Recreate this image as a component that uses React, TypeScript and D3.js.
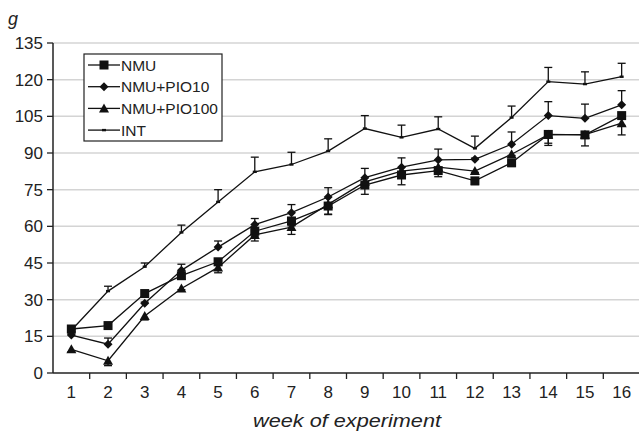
import React from "react";
import * as d3 from "d3";

const weeks = ["1","2","3","4","5","6","7","8","9","10","11","12","13","14","15","16"];
const yTicks = [0, 15, 30, 45, 60, 75, 90, 105, 120, 135];

const nmu = [18, 19.4, 32.5, 39.8, 45.5, 58, 62.2, 68.3, 76.9, 81, 82.8, 78.6, 86, 97.6, 97.4, 105.3];
const nmuErr = [1, 1, 1.5, 1.5, 1.5, 2, 2, 3.5, 3.8, 4, 2.5, 1.5, 1.5, 4.5, 4.5, 4];
const pio10 = [15.5, 11.8, 28.5, 42, 51.5, 60.7, 65.6, 72, 79.9, 84.2, 87.2, 87.4, 93.6, 105.3, 104.2, 109.7];
const pio10Err = [0.5, 2.5, 0.5, 2.5, 2.5, 2.5, 3.3, 3.8, 3.8, 3.8, 4.4, 0.5, 5, 5.7, 5.8, 5.8];
const pio100 = [9.7, 5, 23.3, 34.6, 43.2, 56.5, 59.7, 69, 78.2, 82.6, 84.2, 82.6, 89.5, 97.5, 97.5, 102.2];
const pio100Err = [1, 2, 1.6, 0.5, 2.2, 2.5, 3, 4, 0.5, 0.5, 0.5, 0.5, 0.5, 3.5, 0.5, 4.8];
const intg = [17.5, 33.5, 43.5, 57.5, 70, 82.3, 85.3, 90.8, 100, 96.4, 99.8, 91.9, 104.5, 119.2, 118.2, 121.2];
const intErr = [0.5, 2, 1.5, 3, 5, 6, 5, 5, 5.3, 5, 5, 5, 4.7, 5.8, 5, 5.5];

const seriesNames = ["NMU", "NMU+PIO10", "NMU+PIO100", "INT"];

const W = 639, H = 431;
const left = 53, right = 640, top = 43, bottom = 373;

export default function App() {
  const x = d3.scaleBand<string>().domain(weeks).range([left, right]);
  const y = d3.scaleLinear().domain([0, 135]).range([bottom, top]);
  const cx = (w: string) => (x(w) as number) + x.bandwidth() / 2;
  const line = d3.line<number>().x((_, i) => cx(weeks[i])).y((v) => y(v));

  const series = [
    { name: seriesNames[0], vals: nmu, err: nmuErr, dir: 1, marker: "square" },
    { name: seriesNames[1], vals: pio10, err: pio10Err, dir: -1, marker: "diamond" },
    { name: seriesNames[2], vals: pio100, err: pio100Err, dir: 1, marker: "triangle" },
    { name: seriesNames[3], vals: intg, err: intErr, dir: -1, marker: "dash" },
  ];

  const marker = (type: string, px: number, py: number, key: any) => {
    if (type === "square") return <rect key={key} x={px - 4.5} y={py - 4.5} width={9} height={9} fill="#111" />;
    if (type === "diamond") return <path key={key} d={`M${px},${py - 4.5}L${px + 4.5},${py}L${px},${py + 4.5}L${px - 4.5},${py}Z`} fill="#111" />;
    if (type === "triangle") return <path key={key} d={`M${px},${py - 5}L${px + 5},${py + 4}L${px - 5},${py + 4}Z`} fill="#111" />;
    return <rect key={key} x={px - 2} y={py - 1.2} width={4} height={2.4} fill="#111" />;
  };

  const font = "'Liberation Sans', Arial, Helvetica, sans-serif";

  return (
    <svg width={W} height={H} style={{ position: "absolute", left: 0, top: 0, background: "#fff" }} fontFamily={font}>
      <rect x={0} y={0} width={W} height={H} fill="#fff" />
      {yTicks.filter((t) => t > 0).map((t) => (
        <line key={"g" + t} x1={left} x2={right} y1={y(t)} y2={y(t)} stroke="#d4d4d4" strokeWidth={1.5} />
      ))}
      <line x1={left} x2={left} y1={top} y2={bottom} stroke="#222" strokeWidth={1.5} />
      <line x1={left} x2={right} y1={bottom} y2={bottom} stroke="#222" strokeWidth={1.5} />
      {yTicks.map((t) => (
        <g key={"yt" + t}>
          <line x1={left - 6} x2={left} y1={y(t)} y2={y(t)} stroke="#222" strokeWidth={1.3} />
          <text x={43} y={y(t)} dy="0.36em" textAnchor="end" fontSize={17} fill="#222">{t}</text>
        </g>
      ))}
      {weeks.map((w) => (
        <g key={"xt" + w}>
          <line x1={(x(w) as number) + x.bandwidth()} x2={(x(w) as number) + x.bandwidth()} y1={bottom} y2={bottom + 6} stroke="#222" strokeWidth={1.3} />
          <text x={cx(w)} y={398} textAnchor="middle" fontSize={17} fill="#222">{w}</text>
        </g>
      ))}
      <text x={347} y={427} textAnchor="middle" fontSize={18} fontStyle="italic" fill="#222" textLength={188} lengthAdjust="spacingAndGlyphs">week of experiment</text>
      <text x={8} y={25} fontSize={18} fontStyle="italic" fill="#222">g</text>

      {series.map((s) => (
        <g key={"e" + s.name}>
          {s.vals.map((v, i) => {
            const px = cx(weeks[i]);
            const y2 = s.dir === -1 ? y(v + s.err[i]) : y(v - s.err[i]);
            return (
              <g key={i}>
                <line x1={px} x2={px} y1={y(v)} y2={y2} stroke="#111" strokeWidth={1.3} />
                <line x1={px - 4} x2={px + 4} y1={y2} y2={y2} stroke="#111" strokeWidth={1.3} />
              </g>
            );
          })}
        </g>
      ))}
      {series.map((s) => (
        <path key={"l" + s.name} d={line(s.vals) as string} fill="none" stroke="#111" strokeWidth={1.3} />
      ))}
      {series.map((s) => (
        <g key={"m" + s.name}>{s.vals.map((v, i) => marker(s.marker, cx(weeks[i]), y(v), i))}</g>
      ))}

      <rect x={84} y={54} width={138} height={87} fill="#fff" stroke="#222" strokeWidth={1.2} />
      {series.map((s, i) => {
        const ly = 65 + i * 21.7;
        return (
          <g key={"lg" + s.name}>
            <line x1={88} x2={120} y1={ly} y2={ly} stroke="#111" strokeWidth={1.3} />
            {marker(s.marker, 104, ly, "lm")}
            <text x={121} y={ly} dy="0.36em" fontSize={15.5} fill="#222">{s.name}</text>
          </g>
        );
      })}
    </svg>
  );
}
